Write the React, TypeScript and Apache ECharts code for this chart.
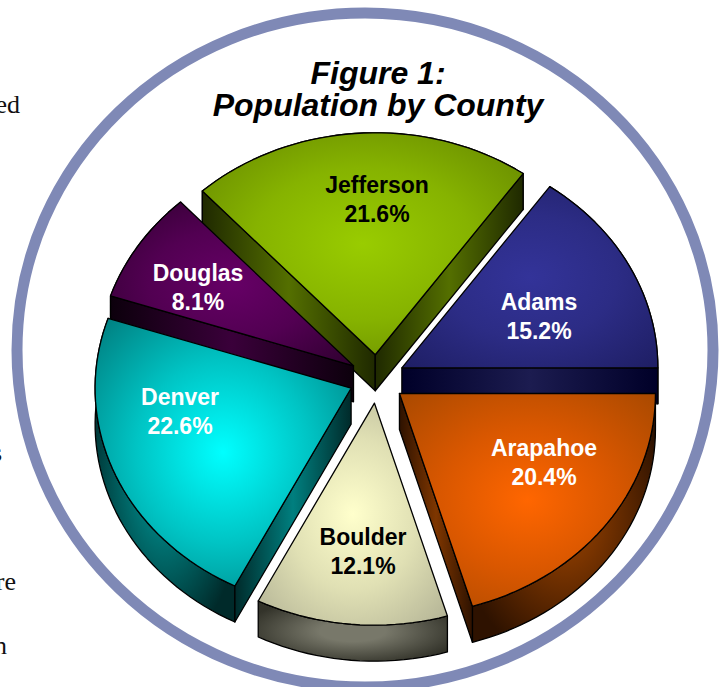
import React, { useEffect, useRef } from "react";
import * as echarts from "echarts";

const counties = ["Arapahoe", "Boulder", "Denver", "Douglas", "Jefferson", "Adams"];
const shares = [20.4, 12.1, 22.6, 8.1, 21.6, 15.2];
const titleLines = ["Figure 1:", "Population by County"];
const bleedText = ["ed", "s", "re", "n"];

// Painting order, back of the pie first.
const paintOrder = [4, 3, 5, 2, 0, 1];

const CX = 377, CY = 379, RX = 256, RY = 222, DEPTH = 36, EXPLODE = 28;

const looks: any = {
  Arapahoe: { centre: "#ff6600", mid: "#d95700", rim: "#ac4a00", wallDark: "#2e1200", wallLight: "#7e3600", text: "#ffffff", label: [544, 462] },
  Boulder: { centre: "#ffffcc", mid: "#e0e0b4", rim: "#b4b496", wallDark: "#33332a", wallLight: "#78786a", text: "#000000", label: [363, 551] },
  Denver: { centre: "#00ffff", mid: "#00c4c4", rim: "#007f80", wallDark: "#002a2a", wallLight: "#007f7f", text: "#ffffff", label: [180, 411] },
  Douglas: { centre: "#660066", mid: "#520052", rim: "#300030", wallDark: "#0c000c", wallLight: "#3a003a", text: "#ffffff", label: [198, 287] },
  Jefferson: { centre: "#99cc00", mid: "#86b300", rim: "#668800", wallDark: "#1f2900", wallLight: "#546f00", text: "#000000", label: [377, 199] },
  Adams: { centre: "#333399", mid: "#2c2c85", rim: "#1f1f66", wallDark: "#000028", wallLight: "#1c1c50", text: "#ffffff", label: [539, 316] },
};

const total = shares.reduce((a, b) => a + b, 0);
const startAngles: number[] = [];
shares.reduce((acc, v, i) => {
  startAngles[i] = acc;
  return acc + (v / total) * Math.PI * 2;
}, 0);

const pt = (ox: number, oy: number, a: number, dy = 0): number[] => [
  ox + RX * Math.cos(a),
  oy + RY * Math.sin(a) + dy,
];

const arcPts = (ox: number, oy: number, a0: number, a1: number, dy = 0) => {
  const n = Math.max(6, Math.ceil(((a1 - a0) * 180) / Math.PI / 2));
  const out: number[][] = [];
  for (let i = 0; i <= n; i++) out.push(pt(ox, oy, a0 + ((a1 - a0) * i) / n, dy));
  return out;
};

const wallFill = (dark: string, light: string) =>
  new echarts.graphic.LinearGradient(0, 0, 1, 0, [
    { offset: 0, color: dark },
    { offset: 0.5, color: light },
    { offset: 1, color: dark },
  ]);

const arcWallFill = (dark: string, light: string) =>
  new echarts.graphic.RadialGradient(0.5, 0.5, 0.58, [
    { offset: 0, color: light },
    { offset: 0.3, color: light },
    { offset: 1, color: dark },
  ]);

function renderItem(params: any, api: any) {
  const value = api.value(0);
  const idx = api.value(1);
  const name = counties[idx];
  const look = looks[name];
  const a0 = startAngles[idx];
  const a1 = a0 + (value / total) * Math.PI * 2;
  const mid = (a0 + a1) / 2;
  const ox = CX + EXPLODE * Math.cos(mid);
  const oy = CY + EXPLODE * (RY / RX) * Math.sin(mid);
  const line = { stroke: "#000000", lineWidth: 1.3, lineJoin: "round" };

  const top = arcPts(ox, oy, a0, a1);
  const children: any[] = [];

  const upper = arcPts(ox, oy, a0, a1);
  const lower = arcPts(ox, oy, a0, a1, DEPTH).reverse();
  children.push({
    type: "polygon",
    silent: true,
    shape: { points: upper.concat(lower) },
    style: { fill: arcWallFill(look.wallDark, look.wallLight), ...line },
  });

  const addRadial = (a: number) => {
    const e = pt(ox, oy, a);
    children.push({
      type: "polygon",
      silent: true,
      shape: { points: [[ox, oy], e, [e[0], e[1] + DEPTH], [ox, oy + DEPTH]] },
      style: { fill: wallFill(look.wallDark, look.wallLight), ...line },
    });
  };
  // Only the cut faces that turn towards the viewer are visible.
  if (Math.cos(a0) < 0) addRadial(a0);
  if (Math.cos(a1) > 0) addRadial(a1);

  children.push({
    type: "polygon",
    silent: true,
    shape: { points: [[ox, oy], ...top] },
    style: {
      fill: new echarts.graphic.RadialGradient(0.5, 0.5, 0.68, [
        { offset: 0, color: look.centre },
        { offset: 0.5, color: look.mid },
        { offset: 1, color: look.rim },
      ]),
      ...line,
    },
  });
  children.push({
    type: "text",
    silent: true,
    x: look.label[0],
    y: look.label[1],
    style: {
      text: `${name}\n${value.toFixed(1)}%`,
      fill: look.text,
      fontFamily: "'Liberation Sans', Arial, sans-serif",
      fontWeight: "bold",
      fontSize: 23,
      lineHeight: 29,
      align: "center",
      verticalAlign: "middle",
    },
  });
  return { type: "group", children };
}

const serif = "'Liberation Serif', 'Times New Roman', serif";
const bleed = (text: string, right: number, mid: number) => ({
  type: "text",
  silent: true,
  x: right,
  y: mid,
  style: { text, fill: "#111111", fontFamily: serif, fontSize: 26, align: "right", verticalAlign: "middle" },
});

export default function App() {
  const ref = useRef<HTMLDivElement>(null);
  useEffect(() => {
    const chart = echarts.init(ref.current!, null, { renderer: "svg" });
    chart.setOption({
      animation: false,
      backgroundColor: "#ffffff",
      title: {
        text: titleLines.join("\n"),
        left: 373,
        top: 52,
        textAlign: "center",
        textStyle: {
          fontFamily: "'Liberation Sans', Arial, sans-serif",
          fontWeight: "bold",
          fontStyle: "italic",
          fontSize: 32,
          lineHeight: 32,
          color: "#000000",
        },
      },
      graphic: [
        {
          type: "ellipse",
          silent: true,
          z: -1,
          shape: { cx: 365, cy: 350, rx: 348, ry: 337 },
          style: { fill: "none", stroke: "#7f89b6", lineWidth: 11 },
        },
        bleed(bleedText[0], 20, 104),
        bleed(bleedText[1], 2, 452),
        bleed(bleedText[2], 16, 581),
        bleed(bleedText[3], 7, 645),
      ],
      series: [
        {
          type: "custom",
          coordinateSystem: "none",
          renderItem,
          silent: true,
          clip: false,
          data: paintOrder.map((i) => [shares[i], i]),
        },
      ],
    });
    return () => chart.dispose();
  }, []);
  return <div ref={ref} style={{ position: "fixed", left: 0, top: 0, width: 720, height: 687 }} />;
}
